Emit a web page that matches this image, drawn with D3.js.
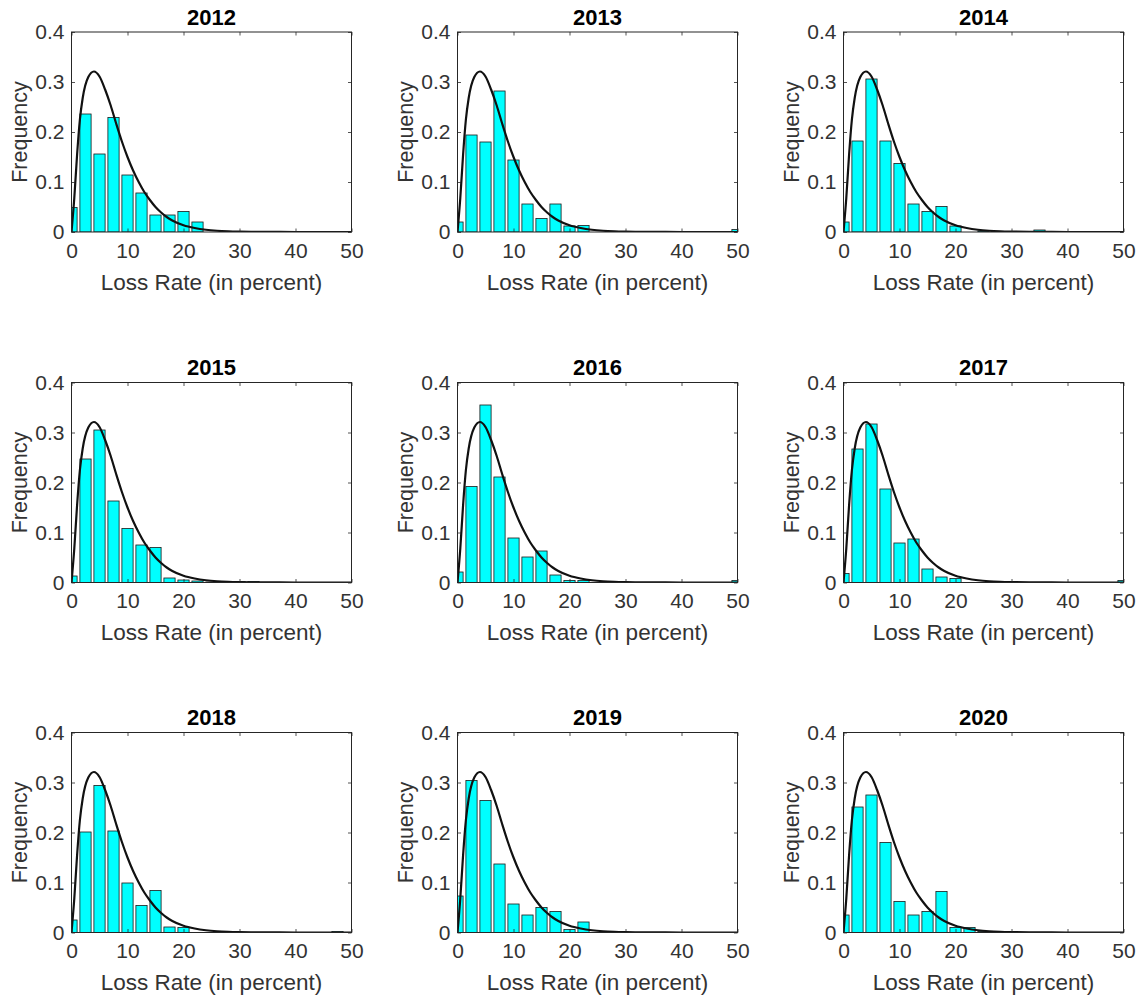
<!DOCTYPE html>
<html>
<head>
<meta charset="utf-8">
<script src="https://cdn.jsdelivr.net/npm/d3@7"></script>
<style>
  body { margin: 0; background: #fff; }
  svg text { font-family: Arial, "Liberation Sans", sans-serif; }
</style>
</head>
<body>
<svg id="chart" width="1140" height="997"></svg>
<script>
// bin centers (percent) shared by every histogram
const binCenters = [0, 2.5, 5, 7.5, 10, 12.5, 15, 17.5, 20, 22.5, 25, 27.5, 30, 32.5, 35, 37.5, 40, 42.5, 45, 47.5, 50];

// frequencies
const freq2012 = [0.049, 0.236, 0.156, 0.229, 0.114, 0.078, 0.034, 0.034, 0.041, 0.020, 0, 0, 0, 0, 0, 0, 0, 0, 0, 0, 0];
const freq2013 = [0.020, 0.194, 0.180, 0.282, 0.144, 0.056, 0.027, 0.056, 0.012, 0.013, 0, 0, 0, 0, 0, 0, 0, 0, 0, 0, 0.005];
const freq2014 = [0.020, 0.182, 0.306, 0.182, 0.137, 0.056, 0.041, 0.051, 0.012, 0, 0.002, 0.001, 0, 0, 0.004, 0, 0, 0, 0, 0, 0];
const freq2015 = [0.013, 0.247, 0.305, 0.163, 0.108, 0.075, 0.070, 0.009, 0.005, 0.003, 0.001, 0.001, 0.002, 0.002, 0, 0, 0, 0, 0, 0, 0];
const freq2016 = [0.021, 0.192, 0.355, 0.211, 0.089, 0.051, 0.063, 0.015, 0.004, 0.004, 0, 0, 0, 0, 0, 0, 0, 0, 0, 0, 0.004];
const freq2017 = [0.018, 0.267, 0.317, 0.187, 0.079, 0.087, 0.027, 0.011, 0.008, 0, 0, 0, 0, 0, 0, 0, 0, 0, 0, 0, 0.004];
const freq2018 = [0.025, 0.201, 0.294, 0.203, 0.099, 0.054, 0.084, 0.011, 0.010, 0, 0, 0, 0, 0, 0, 0, 0, 0, 0, 0.002, 0];
const freq2019 = [0.073, 0.304, 0.264, 0.137, 0.057, 0.035, 0.050, 0.042, 0.006, 0.021, 0, 0, 0, 0, 0, 0, 0, 0, 0, 0, 0];
const freq2020 = [0.035, 0.251, 0.275, 0.180, 0.062, 0.035, 0.042, 0.082, 0.010, 0.010, 0.002, 0, 0, 0, 0, 0, 0, 0, 0, 0, 0];

// fitted density curve (same in all panels)
const fitX = [0, 0.5, 1, 1.5, 2, 3, 4, 5, 6, 7, 8, 9, 10, 11, 12, 13, 14, 15, 16, 17, 18, 20, 22, 24, 26, 28, 30, 35, 40, 45, 50];
const fitY = [0, 0.068, 0.155, 0.225, 0.268, 0.310, 0.321, 0.311, 0.285, 0.253, 0.216, 0.181, 0.150, 0.123, 0.100, 0.080, 0.064, 0.050, 0.039, 0.030, 0.023, 0.0135, 0.008, 0.0045, 0.0025, 0.0014, 0.0008, 0.0002, 0, 0, 0];

const xTicks = [0, 10, 20, 30, 40, 50];
const yTicks = [0, 0.1, 0.2, 0.3, 0.4];

const panels = [
    { year: "2012", values: freq2012 },
    { year: "2013", values: freq2013 },
    { year: "2014", values: freq2014 },
    { year: "2015", values: freq2015 },
    { year: "2016", values: freq2016 },
    { year: "2017", values: freq2017 },
    { year: "2018", values: freq2018 },
    { year: "2019", values: freq2019 },
    { year: "2020", values: freq2020 }
];

const colLeft = [71.5, 457.5, 843.5];
const rowTop = [32, 382.5, 732.5];
const w = 280, h = 200;
const fontSize = 21;
const axisColor = "#262626";

const svg = d3.select("#chart");

const x = d3.scaleLinear().domain([0, 50]).range([0, w]);
const y = d3.scaleLinear().domain([0, 0.4]).range([h, 0]);
const barW = (x(binCenters[1]) - x(binCenters[0])) * 0.8;

const line = d3.line()
    .x((d, i) => x(fitX[i]))
    .y(d => y(d))
    .curve(d3.curveMonotoneX);

svg.append("defs").append("clipPath")
    .attr("id", "plotClip")
    .append("rect")
    .attr("width", w)
    .attr("height", h);

panels.forEach((p, i) => {
    const g = svg.append("g")
        .attr("transform", `translate(${colLeft[i % 3]},${rowTop[Math.floor(i / 3)]})`);

    // bars + fitted curve, clipped to the axes box
    const plot = g.append("g").attr("clip-path", "url(#plotClip)");
    plot.selectAll("rect.bar")
        .data(p.values.map((v, j) => ({ c: binCenters[j], v })).filter(d => d.v > 0))
        .join("rect")
        .attr("class", "bar")
        .attr("x", d => x(d.c) - barW / 2)
        .attr("y", d => y(d.v))
        .attr("width", barW)
        .attr("height", d => y(0) - y(d.v))
        .attr("fill", "#00ffff")
        .attr("stroke", "#1a1a1a")
        .attr("stroke-width", 0.8);

    plot.append("path")
        .datum(fitY)
        .attr("d", line)
        .attr("fill", "none")
        .attr("stroke", "#111")
        .attr("stroke-width", 2.2);

    // axes (ticks point inward, also on top and right)
    g.append("g")
        .attr("transform", `translate(0,${h})`)
        .call(d3.axisBottom(x).tickValues(xTicks).tickSizeInner(-3.5).tickSizeOuter(0).tickPadding(11));
    g.append("g")
        .call(d3.axisLeft(y).tickValues(yTicks).tickSizeInner(-3.5).tickSizeOuter(0).tickPadding(7)
            .tickFormat(d => d === 0 ? "0" : d3.format(".1f")(d)));
    g.append("g")
        .call(d3.axisTop(x).tickValues(xTicks).tickSizeInner(-3.5).tickSizeOuter(0).tickFormat(""));
    g.append("g")
        .attr("transform", `translate(${w},0)`)
        .call(d3.axisRight(y).tickValues(yTicks).tickSizeInner(-3.5).tickSizeOuter(0).tickFormat(""));

    g.selectAll(".domain").remove();
    g.selectAll(".tick line").attr("stroke", axisColor).attr("stroke-width", 0.8);
    g.selectAll(".tick text")
        .attr("fill", "#333")
        .style("font-size", fontSize + "px");

    g.append("rect")
        .attr("width", w)
        .attr("height", h)
        .attr("fill", "none")
        .attr("stroke", axisColor)
        .attr("stroke-width", 1);

    // title and labels
    g.append("text")
        .attr("x", w / 2)
        .attr("y", -7.5)
        .attr("text-anchor", "middle")
        .attr("font-weight", "bold")
        .attr("fill", "#000")
        .style("font-size", "22px")
        .text(p.year);

    g.append("text")
        .attr("x", w / 2)
        .attr("y", h + 57.5)
        .attr("text-anchor", "middle")
        .attr("fill", "#333")
        .style("font-size", "22.5px")
        .text("Loss Rate (in percent)");

    g.append("text")
        .attr("transform", `translate(-44.5,${h / 2}) rotate(-90)`)
        .attr("text-anchor", "middle")
        .attr("fill", "#333")
        .style("font-size", "21.5px")
        .text("Frequency");
});
</script>
</body>
</html>
